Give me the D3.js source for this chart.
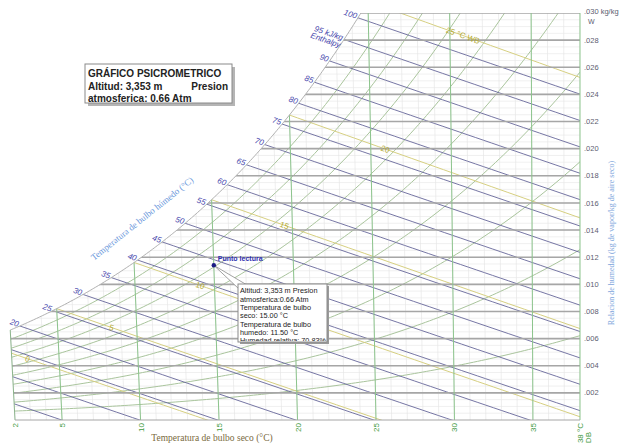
<!DOCTYPE html>
<html>
<head>
<meta charset="utf-8">
<script src="https://cdn.jsdelivr.net/npm/d3@7"></script>
<style>
body { margin: 0; background: #fff; }
svg { display: block; }
text { font-family: Arial, "Liberation Sans", sans-serif; }
</style>
</head>
<body>
<script>
// presion atmosferica a 3,353 m (0.66 atm) en kPa
var presion = 66.9;

var dryBulbTicks = [2, 5, 10, 15, 20, 25, 30, 35, 38];
var dryBulbLines = [5, 10, 15, 20, 25, 30, 35];
var humidityTicks = [0.002, 0.004, 0.006, 0.008, 0.010, 0.012, 0.014, 0.016, 0.018, 0.020, 0.022, 0.024, 0.026, 0.028, 0.030];
var humidityLabels = [".002", ".004", ".006", ".008", ".010", ".012", ".014", ".016", ".018", ".020", ".022", ".024", ".026", ".028", ".030"];
var enthalpyValues = [5, 10, 15, 20, 25, 30, 35, 40, 45, 50, 55, 60, 65, 70, 75, 80, 85, 90, 95, 100];
var wetBulbValues = [0, 5, 10, 15, 20, 25];
var wetBulbLabels = ["0", "5", "10", "15", "20", "25 \u00b0C WB"];
var wetBulbLabelAt = [3, 8.4, 14.1, 19.5, 25.9, 30.8];
var rhValues = [10, 20, 30, 40, 50, 60, 70, 80, 90];

var punto = {seco: 15, humedo: 11.5};
var tooltipLines = ["Altitud: 3,353 m Presion", "atmosferica:0.66 Atm", "Temperatura de bulbo", "seco: 15.00 \u00b0C",
                    "Temperatura de bulbo", "humedo: 11.50 \u00b0C", "Humedad relativa: 70.83%"];

// psicrometria
function pws(t) { return 0.61094 * Math.exp(17.625 * t / (t + 243.04)); }
function wFromPw(pw) { return 0.622 * pw / (presion - pw); }
function wsat(t) { return wFromPw(pws(t)); }
function wEnth(h, t) { return (h - 1.006 * t) / (2501 + 1.86 * t); }
function wWet(tw, t) { return ((2501 - 2.326 * tw) * wsat(tw) - 1.006 * (t - tw)) / (2501 + 1.86 * t - 4.186 * tw); }
function wRH(rh, t) { return wFromPw(rh / 100 * pws(t)); }

function solve(f, a, b) {
    for (var i = 0; i < 60; i++) {
        var m = (a + b) / 2;
        if (f(a) * f(m) <= 0) b = m; else a = m;
    }
    return (a + b) / 2;
}

var x = d3.scaleLinear().domain([2, 38]).range([15, 580]);
var y = d3.scaleLinear().domain([0, 0.03]).range([420, 13]);

// las lineas de bulbo seco se inclinan un poco hacia la izquierda
function px(t, w) { return x(t - 1.27 * (38 - t) * w); }

var line = d3.line().x(function(d) { return px(d[0], d[1]); }).y(function(d) { return y(d[1]); });

function sample(fn, t0, t1, step) {
    var pts = [];
    for (var t = t0; t <= t1 + 1e-9; t += step) pts.push([t, fn(t)]);
    return pts;
}

var tTop = solve(function(t) { return wsat(t) - 0.03; }, 2, 38);
var satPts = sample(wsat, 2, tTop, 0.1);
satPts.push([tTop, 0.03]);

var svg = d3.select('body').append('svg').attr('width', 620).attr('height', 445);
var defs = svg.append('defs');

var areaPts = satPts.concat([[38, 0.03], [38, 0], [2, 0]]);
defs.append('clipPath').attr('id', 'area').append('path').attr('d', line(areaPts) + 'Z');
defs.append('clipPath').attr('id', 'tipclip').append('rect').attr('x', 0).attr('y', 0).attr('width', 89).attr('height', 57);

var chart = svg.append('g').attr('clip-path', 'url(#area)');

// rejilla fina
d3.range(2, 39, 1).forEach(function(t) {
    chart.append('path').attr('d', line([[t, 0], [t, 0.031]]))
        .attr('stroke', '#e3e3e3').attr('stroke-width', 0.6).attr('fill', 'none');
});
d3.range(0.0005, 0.03, 0.0005).forEach(function(w) {
    chart.append('line').attr('x1', 0).attr('x2', 620).attr('y1', y(w)).attr('y2', y(w))
        .attr('stroke', '#e6e6e6').attr('stroke-width', 0.6);
});

// humedad relativa
rhValues.forEach(function(rh) {
    chart.append('path').attr('d', line(sample(function(t) { return wRH(rh, t); }, 2, 38, 0.25)))
        .attr('fill', 'none').attr('stroke', '#a9c49c').attr('stroke-width', 1);
});

// bulbo humedo
wetBulbValues.forEach(function(tw) {
    chart.append('path').attr('d', line(sample(function(t) { return wWet(tw, t); }, Math.max(tw, 1), 38, 0.5)))
        .attr('fill', 'none').attr('stroke', '#d6cf80').attr('stroke-width', 1);
});

// entalpia
enthalpyValues.forEach(function(h) {
    chart.append('path').attr('d', line(sample(function(t) { return wEnth(h, t); }, 1, 38, 0.5)))
        .attr('fill', 'none').attr('stroke', '#66669a').attr('stroke-width', 0.9);
});

// relacion de humedad
humidityTicks.forEach(function(w) {
    chart.append('line').attr('x1', 0).attr('x2', 620).attr('y1', y(w)).attr('y2', y(w))
        .attr('stroke', '#a6a6a6').attr('stroke-width', 1.6);
});

// bulbo seco
dryBulbLines.forEach(function(t) {
    chart.append('path').attr('d', line([[t, 0], [t, 0.031]]))
        .attr('stroke', '#8cc48c').attr('stroke-width', 1).attr('fill', 'none');
});

// marco y curva de saturacion
svg.append('path').attr('d', line(satPts)).attr('fill', 'none').attr('stroke', '#b0b0b0').attr('stroke-width', 1);
svg.append('path').attr('d', line([[2, 0], [2, wsat(2)]])).attr('stroke', '#8cb48c').attr('fill', 'none');
svg.append('path').attr('d', line([[38, 0], [38, 0.03]])).attr('stroke', '#8cc48c').attr('fill', 'none');
svg.append('path').attr('d', line([[2, 0], [38, 0]])).attr('stroke', '#a6a6a6').attr('fill', 'none');

// etiquetas de entalpia
enthalpyValues.filter(function(h) { return h >= 20; }).forEach(function(h) {
    var ts = solve(function(t) { return wEnth(h, t) - wsat(t); }, -10, 40);
    var ws = wEnth(h, ts);
    var sx = px(ts, ws), sy = y(ws);
    var ang = Math.atan2(y(wEnth(h, ts + 5)) - sy, px(ts + 5, wEnth(h, ts + 5)) - sx) * 180 / Math.PI;
    var txt = svg.append('text')
        .attr('transform', 'translate(' + (sx - 2) + ',' + (sy + 1) + ') rotate(' + ang + ')')
        .attr('text-anchor', 'end')
        .style('font-size', '8px').style('font-style', 'italic').style('fill', '#4646ac');
    if (h == 95) {
        txt.append('tspan').attr('x', 0).text('95 kJ/kg');
        txt.append('tspan').attr('x', 0).attr('dy', '0.95em').text('Enthalpy');
    } else {
        txt.text(h);
    }
});

// etiquetas de bulbo humedo
wetBulbValues.forEach(function(tw, i) {
    var t = wetBulbLabelAt[i];
    var w = wWet(tw, t);
    var ang = Math.atan2(y(wWet(tw, t + 2)) - y(w), px(t + 2, wWet(tw, t + 2)) - px(t, w)) * 180 / Math.PI;
    svg.append('text')
        .attr('transform', 'translate(' + px(t, w) + ',' + y(w) + ') rotate(' + ang + ')')
        .attr('text-anchor', 'middle').attr('dy', '0.35em')
        .style('font-size', '8px').style('fill', '#b3aa34')
        .text(wetBulbLabels[i]);
});

// eje inferior
dryBulbTicks.forEach(function(t) {
    var tx = svg.append('text')
        .attr('transform', 'translate(' + (x(t) + 3) + ',423) rotate(-90)')
        .attr('text-anchor', 'end')
        .style('font-size', '8px').style('fill', '#3f9a3f');
    if (t == 38) {
        tx.append('tspan').attr('x', 0).text('38 \u00b0C');
        tx.append('tspan').attr('x', -9).attr('dy', '1em').text('DB');
    } else {
        tx.text(t);
    }
});

svg.append('text').attr('x', 212).attr('y', 441).attr('text-anchor', 'middle')
    .style('font-family', '"Liberation Serif", "Times New Roman", serif').style('font-size', '9.5px').style('fill', '#7a6a40')
    .text('Temperatura de bulbo seco (\u00b0C)');

// eje derecho
humidityTicks.forEach(function(w, i) {
    svg.append('text').attr('x', 584).attr('y', y(w) - (w == 0.030 ? 1.5 : 0)).attr('dy', '0.35em')
        .style('font-size', '7.5px').style('fill', '#5c5c70')
        .text(humidityLabels[i] + (w == 0.030 ? ' kg/kg' : ''));
});
svg.append('text').attr('x', 588).attr('y', y(0.03) + 11).style('font-size', '7px').style('fill', '#5c5c70').text('W');

svg.append('text').attr('transform', 'translate(614,243) rotate(-90)').attr('text-anchor', 'middle')
    .style('font-family', '"Liberation Serif", "Times New Roman", serif').style('font-size', '8px').style('fill', '#7ea6dc')
    .text('Relacion de humedad (kg de vapor/kg de aire seco)');

svg.append('text').attr('transform', 'translate(144,221) rotate(-38.5)').attr('text-anchor', 'middle')
    .style('font-family', '"Liberation Serif", "Times New Roman", serif').style('font-size', '9px').style('fill', '#6a98dc')
    .text('Temperatura de bulbo h\u00famedo (\u00b0C)');

// titulo
var box = svg.append('g').attr('transform', 'translate(85,64)');
box.append('rect').attr('x', 3).attr('y', 3).attr('width', 147).attr('height', 39).style('fill', '#b5b5b5');
box.append('rect').attr('x', 0).attr('y', 0).attr('width', 147).attr('height', 39).style('fill', '#fff').style('stroke', '#8a8a8a');
var tt = box.append('text').style('font-size', '10px').style('font-weight', 'bold').style('fill', '#222');
tt.append('tspan').attr('x', 3).attr('y', 13).text('GR\u00c1FICO PSICROMETRICO');
tt.append('tspan').attr('x', 3).attr('y', 25.5).text('Altitud: 3,353 m');
tt.append('tspan').attr('x', 143).attr('y', 25.5).attr('text-anchor', 'end').text('Presion');
tt.append('tspan').attr('x', 3).attr('y', 38).text('atmosferica: 0.66 Atm');

// punto de lectura
var pw = wWet(punto.humedo, punto.seco);
var ptx = px(punto.seco, pw), pty = y(pw);

svg.append('path').attr('d', 'M' + ptx + ',' + pty + 'L239,289L247,285Z')
    .style('fill', '#fff').style('stroke', '#8a8a8a').style('stroke-width', 0.8);

var tip = svg.append('g').attr('transform', 'translate(238,284)');
tip.append('rect').attr('x', 2).attr('y', 2).attr('width', 89).attr('height', 58).style('fill', '#9a9a9a');
tip.append('rect').attr('x', 0).attr('y', 0).attr('width', 89).attr('height', 58).style('fill', '#fff').style('stroke', '#8a8a8a');
tip.append('g').attr('clip-path', 'url(#tipclip)').selectAll('text')
    .data(tooltipLines).enter().append('text')
    .attr('x', 2).attr('y', function(d, i) { return 9.3 + i * 8.3; })
    .style('font-size', '7.3px').style('fill', '#222')
    .text(function(d) { return d; });

svg.append('circle').attr('cx', ptx).attr('cy', pty).attr('r', 2.2).style('fill', '#1c1c84');
svg.append('text').attr('x', ptx + 4).attr('y', pty - 4)
    .style('font-size', '7px').style('font-weight', 'bold').style('fill', '#3030b0')
    .text('Punto lectura');
</script>
</body>
</html>
